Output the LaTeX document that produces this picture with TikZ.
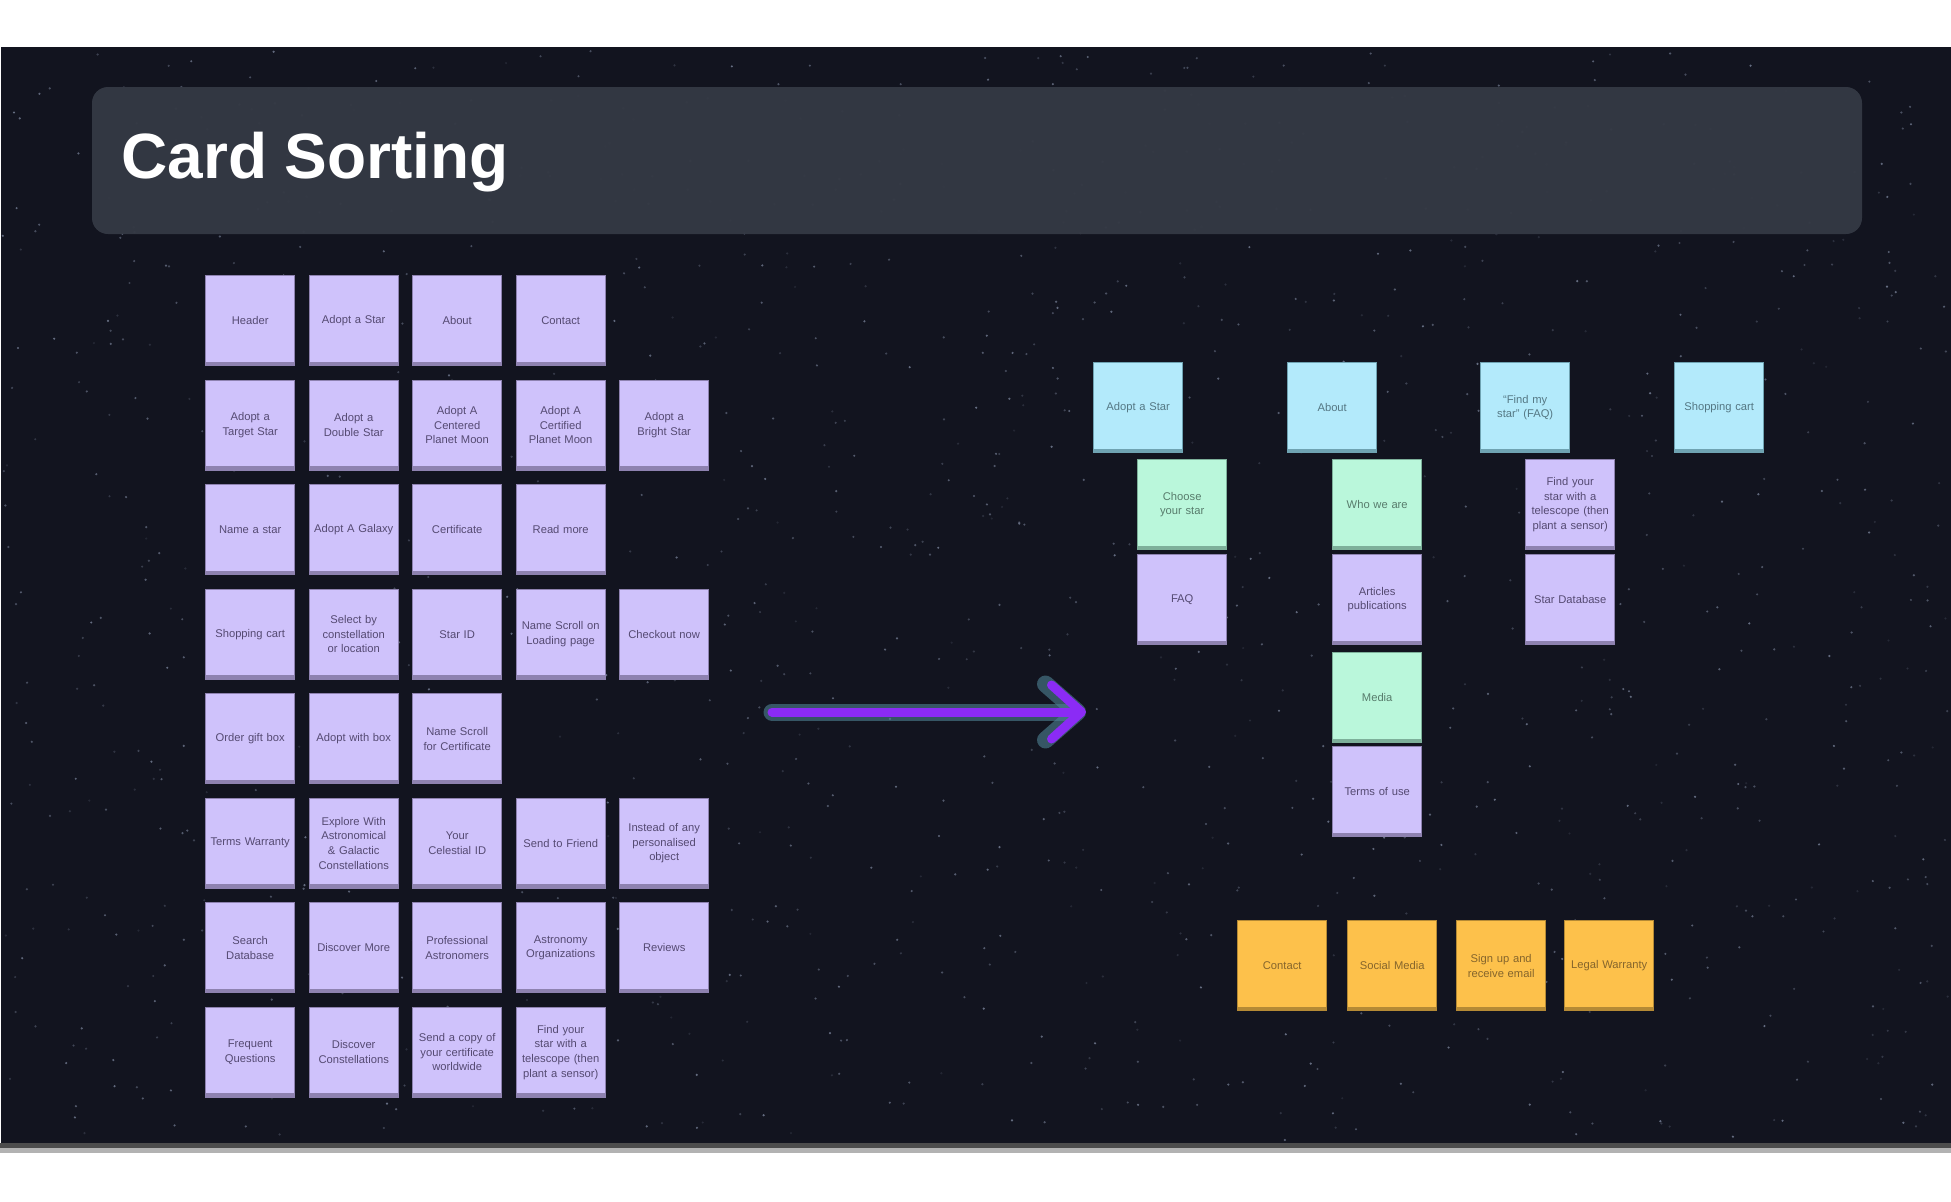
\documentclass[tikz,border=0pt]{standalone}
\usepackage{fontspec}
\setmainfont{Liberation Sans}
\usetikzlibrary{arrows.meta}
\newcommand{\cardnohyph}{\hyphenpenalty=10000\relax\exhyphenpenalty=10000\relax}
\definecolor{bgdark}{HTML}{12141F}
\definecolor{titlebox}{HTML}{343944}
\definecolor{starcol}{HTML}{9AA6C0}
\definecolor{pFill}{HTML}{CFC2FB}
\definecolor{pEdge}{HTML}{8E82B0}
\definecolor{pText}{HTML}{554A72}
\definecolor{bFill}{HTML}{B3EAFB}
\definecolor{bEdge}{HTML}{6FA3B2}
\definecolor{bText}{HTML}{557884}
\definecolor{gFill}{HTML}{BAF7DB}
\definecolor{gEdge}{HTML}{7DB09A}
\definecolor{gText}{HTML}{587C6C}
\definecolor{oFill}{HTML}{FDC14B}
\definecolor{oEdge}{HTML}{B58A35}
\definecolor{oText}{HTML}{85652C}
\definecolor{arrowPurple}{HTML}{8B2BF5}
\definecolor{arrowGlow}{HTML}{4E8295}
\tikzset{
  card/.style={anchor=north west, minimum width=44.5pt, minimum height=45pt,
    inner sep=0pt, text width=40pt, align=center,
    font=\fontsize{5.6}{7.3}\selectfont\cardnohyph, line width=0.7pt},
  pcard/.style={card, fill=pFill, draw=pEdge, text=pText,
    path picture={\fill[pEdge] (path picture bounding box.south west) rectangle ([yshift=2pt]path picture bounding box.south east);}},
  bcard/.style={card, fill=bFill, draw=bEdge, text=bText,
    path picture={\fill[bEdge] (path picture bounding box.south west) rectangle ([yshift=2pt]path picture bounding box.south east);}},
  gcard/.style={card, fill=gFill, draw=gEdge, text=gText,
    path picture={\fill[gEdge] (path picture bounding box.south west) rectangle ([yshift=2pt]path picture bounding box.south east);}},
  ocard/.style={card, fill=oFill, draw=oEdge, text=oText,
    path picture={\fill[oEdge] (path picture bounding box.south west) rectangle ([yshift=2pt]path picture bounding box.south east);}},
}
\begin{document}
\begin{tikzpicture}[x=0.5pt,y=-0.5pt]
\useasboundingbox (0,0) rectangle (1951,1201);
\fill[white] (0,0) rectangle (1951,1201);
% canvas
\fill[bgdark] (1,47) rectangle (1951,1143);
\fill[black!70] (0,1143) rectangle (1951,1148);
\fill[black!30] (0,1148) rectangle (1951,1153);
% stars
\pgfmathsetseed{42}
\foreach \i in {1,...,1300}{
  \pgfmathsetmacro{\sx}{2+rnd*1947}
  \pgfmathsetmacro{\sy}{50+rnd*1090}
  \pgfmathsetmacro{\so}{0.12+0.5*rnd}
  \fill[starcol, opacity=\so] (\sx,\sy) circle[radius=0.6pt];
}
% title bar
\fill[titlebox, opacity=0.97, rounded corners=8pt] (92,87) rectangle (1862,234);
\node[anchor=base west, inner sep=0pt, text=white, font=\fontsize{32}{36}\selectfont\bfseries] (title) at (121,178) {Card Sorting};

% left grid
\node[pcard] (l00) at (205,275) {Header};
\node[pcard] (l01) at (308.5,275) {Adopt a Star};
\node[pcard] (l02) at (412,275) {About};
\node[pcard] (l03) at (515.5,275) {Contact};

\node[pcard] (l10) at (205,379.5) {Adopt a Target Star};
\node[pcard] (l11) at (308.5,379.5) {Adopt a Double Star};
\node[pcard] (l12) at (412,379.5) {Adopt A Centered Planet Moon};
\node[pcard] (l13) at (515.5,379.5) {Adopt A Certified Planet Moon};
\node[pcard] (l14) at (619,379.5) {Adopt a Bright Star};

\node[pcard] (l20) at (205,484) {Name a star};
\node[pcard] (l21) at (308.5,484) {Adopt A Galaxy};
\node[pcard] (l22) at (412,484) {Certificate};
\node[pcard] (l23) at (515.5,484) {Read more};

\node[pcard] (l30) at (205,588.5) {Shopping cart};
\node[pcard] (l31) at (308.5,588.5) {Select by constellation or location};
\node[pcard] (l32) at (412,588.5) {Star ID};
\node[pcard] (l33) at (515.5,588.5) {Name Scroll on Loading page};
\node[pcard] (l34) at (619,588.5) {Checkout now};

\node[pcard] (l40) at (205,693) {Order gift box};
\node[pcard] (l41) at (308.5,693) {Adopt with box};
\node[pcard] (l42) at (412,693) {Name Scroll for Certificate};

\node[pcard] (l50) at (205,797.5) {Terms Warranty};
\node[pcard] (l51) at (308.5,797.5) {Explore With Astronomical \& Galactic Constellations};
\node[pcard] (l52) at (412,797.5) {Your Celestial ID};
\node[pcard] (l53) at (515.5,797.5) {Send to Friend};
\node[pcard] (l54) at (619,797.5) {Instead of any personalised object};

\node[pcard] (l60) at (205,902) {Search Database};
\node[pcard] (l61) at (308.5,902) {Discover More};
\node[pcard] (l62) at (412,902) {Professional Astronomers};
\node[pcard] (l63) at (515.5,902) {Astronomy Organizations};
\node[pcard] (l64) at (619,902) {Reviews};

\node[pcard] (l70) at (205,1006.5) {Frequent Questions};
\node[pcard] (l71) at (308.5,1006.5) {Discover Constellations};
\node[pcard] (l72) at (412,1006.5) {Send a copy of your certificate worldwide};
\node[pcard] (l73) at (515.5,1006.5) {Find your star with a telescope (then plant a sensor)};

% arrow
\coordinate (arrS) at (772,712);
\coordinate (arrE) at (1086,712);
\draw[arrowGlow, opacity=0.6, line width=8.5pt, line cap=round,
  -{Straight Barb[length=16pt, width=28pt, line cap=round, line join=round]}] (arrS) -- (arrE);
\draw[arrowPurple, line width=4.5pt, line cap=round,
  -{Straight Barb[length=15pt, width=27pt, line cap=round, line join=round]}] (arrS) -- (arrE);

% right clusters
\node[bcard] (r1) at (1093,362) {Adopt a Star};
\node[bcard] (r2) at (1287,362) {About};
\node[bcard] (r3) at (1480,362) {``Find my star'' (FAQ)};
\node[bcard] (r4) at (1674,362) {Shopping cart};

\node[gcard] (r5) at (1137,459) {Choose your star};
\node[pcard] (r6) at (1137,554) {FAQ};

\node[gcard] (r7) at (1332,459) {Who we are};
\node[pcard] (r8) at (1332,554) {Articles publications};
\node[gcard] (r9) at (1332,652) {Media};
\node[pcard] (r10) at (1332,746) {Terms of use};

\node[pcard] (r11) at (1525,459) {Find your star with a telescope (then plant a sensor)};
\node[pcard] (r12) at (1525,554) {Star Database};

\node[ocard] (o1) at (1237,920) {Contact};
\node[ocard] (o2) at (1347,920) {Social Media};
\node[ocard] (o3) at (1456,920) {Sign up and receive email};
\node[ocard] (o4) at (1564,920) {Legal Warranty};
\end{tikzpicture}
\end{document}
